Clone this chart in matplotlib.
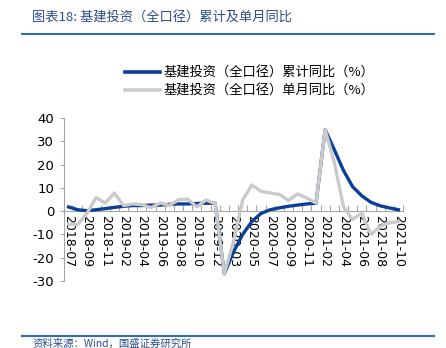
import matplotlib
matplotlib.use("Agg")
import matplotlib.pyplot as plt
from matplotlib.lines import Line2D

plt.rcParams['font.family'] = ['Noto Sans CJK SC', 'DejaVu Sans']

months = ["2018-07", "2018-08", "2018-09", "2018-10", "2018-11", "2018-12",
          "2019-02", "2019-03", "2019-04", "2019-05", "2019-06", "2019-07",
          "2019-08", "2019-09", "2019-10", "2019-11", "2019-12",
          "2020-02", "2020-03", "2020-04", "2020-05", "2020-06", "2020-07",
          "2020-08", "2020-09", "2020-10", "2020-11", "2020-12",
          "2021-02", "2021-03", "2021-04", "2021-05", "2021-06", "2021-07",
          "2021-08", "2021-09", "2021-10"]

cum_yoy = [1.8, 0.6, 0.2, 0.6, 1.1, 1.6, 2.1, 2.4, 2.4, 2.6, 2.6, 2.9,
           3.1, 3.1, 3.3, 3.4, 3.4,
           -26.9, -17.5, -10.0, -4.5, -1.0, 0.6, 1.4, 2.1, 2.6, 3.1, 3.4,
           35.0, 26.4, 17.5, 10.5, 6.6, 3.8, 2.3, 1.4, 0.6]

month_yoy = [-5.5, -5.8, -1.0, 5.8, 3.5, 7.8, 2.4, 3.1, 2.8, 1.5, 3.5, 2.4,
             4.9, 5.2, 1.8, 4.8, 3.2,
             -26.9, -13.0, 4.8, 11.2, 8.5, 7.8, 7.2, 4.6, 7.4, 5.6, 3.5,
             35.0, 21.0, 2.0, -3.6, -0.8, -10.0, -6.5, -5.0, -4.5]

series_names = ["基建投资（全口径）累计同比（%）", "基建投资（全口径）单月同比（%）"]
title_text = "图表18: 基建投资（全口径）累计及单月同比"
source_text = "资料来源：Wind，国盛证券研究所"
yticks = [-30, -20, -10, 0, 10, 20, 30, 40]

BLUE = "#0B3F97"
GRAY = "#CACACA"
RULE = "#2E6BC0"
TITLE_C = "#2B4C8C"

W, H = 446, 348
fig = plt.figure(figsize=(W / 100, H / 100), dpi=100)

ax = fig.add_axes([64 / W, 1 - 281 / H, (403 - 64) / W, (281 - 118) / H])
x = list(range(len(months)))
ax.plot(x, cum_yoy, color=BLUE, lw=2.4, zorder=3, solid_joinstyle='round')
ax.plot(x, month_yoy, color=GRAY, lw=2.4, zorder=4, solid_joinstyle='round')

ax.set_xlim(-0.5, len(months) - 0.5)
ax.set_ylim(-30, 40)
ax.set_yticks(yticks)
ax.set_yticklabels([str(v) for v in yticks], family='DejaVu Sans', fontsize=9.5)

for s in ['top', 'right']:
    ax.spines[s].set_visible(False)
ax.spines['left'].set_color('#A6A6A6')
ax.spines['bottom'].set_color('#A6A6A6')
ax.spines['bottom'].set_position(('data', 0))
ax.spines['left'].set_linewidth(0.8)
ax.spines['bottom'].set_linewidth(0.8)

label_pos = x[::2]
ax.set_xticks(label_pos)
ax.set_xticklabels([months[i] for i in label_pos], rotation=270,
                   family='DejaVu Sans', fontsize=9, va='top', ha='center')
ax.set_xticks([i - 0.5 for i in range(len(months) + 1)], minor=True)
ax.tick_params(axis='x', which='major', length=0, pad=3)
ax.tick_params(axis='x', which='minor', direction='in', length=4,
               color='#A6A6A6', width=0.8)
ax.tick_params(axis='y', direction='out', length=3, color='#A6A6A6',
               width=0.8, pad=4)

# legend
handles = [Line2D([], [], color=BLUE, lw=2.6), Line2D([], [], color=GRAY, lw=2.6)]
fig.legend(handles, series_names, loc='center left',
           bbox_to_anchor=(120 / W, 1 - 82 / H), frameon=False,
           fontsize=9.5, handlelength=2.6, handletextpad=0.3,
           labelspacing=0.35, borderaxespad=0)

# title and rules
fig.text(32 / W, 1 - 18 / H, title_text, fontsize=9.5, color=TITLE_C,
         va='center', ha='left', style='italic')
fig.add_artist(Line2D([22 / W, 434 / W], [1 - 33.5 / H, 1 - 33.5 / H],
                      color=RULE, lw=1.5, transform=fig.transFigure))
fig.add_artist(Line2D([22 / W, 434 / W], [1 - 336 / H, 1 - 336 / H],
                      color=RULE, lw=1.5, transform=fig.transFigure))
fig.text(33 / W, 1 - 338.5 / H, source_text, fontsize=7.5, color=TITLE_C,
         va='top', ha='left', style='italic')

fig.savefig("out.png", dpi=100)
